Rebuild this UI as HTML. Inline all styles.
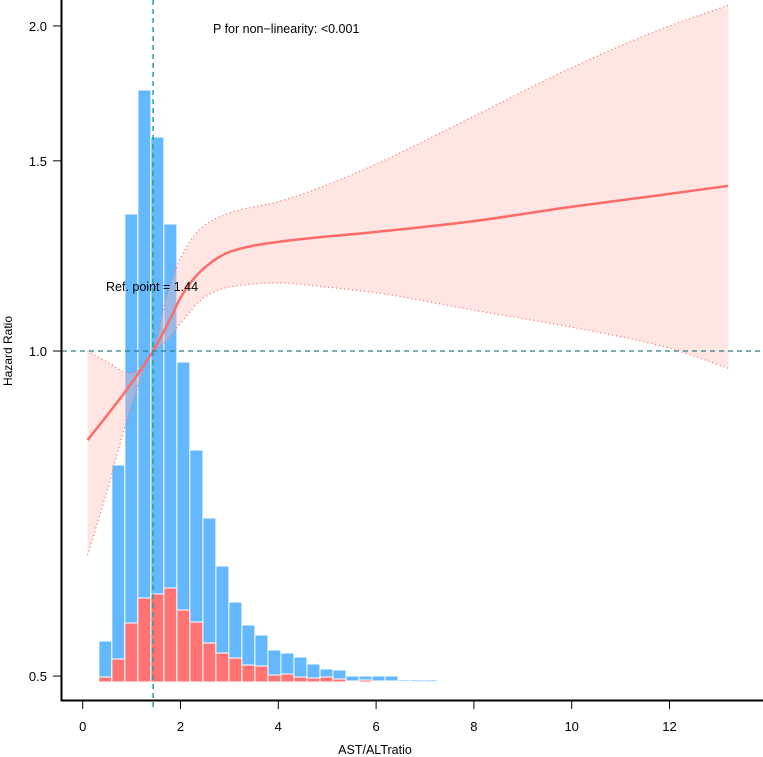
<!DOCTYPE html>
<html><head><meta charset="utf-8"><style>
html,body{margin:0;padding:0;background:#fff;}
svg{display:block;font-family:"Liberation Sans",Arial,sans-serif;}
</style></head><body>
<svg id="chart" width="763" height="757" viewBox="0 0 763 757" xmlns="http://www.w3.org/2000/svg">
<g id="hist"></g>
<g id="band"></g>
<g id="axes"></g>
<text x="12" y="351" font-size="12" text-anchor="middle" transform="rotate(-90 12 351)">Hazard Ratio</text>
<text x="375" y="754" font-size="12.5" text-anchor="middle">AST/ALTratio</text>
<text x="213" y="33" font-size="12.5">P for non−linearity: &lt;0.001</text>
<text x="106" y="291" font-size="12.5">Ref. point = 1.44</text>
</svg>
<script>
const binStart = 0.33;
const binWidth = 0.266;
const totalCounts = [41,217,468,592,545,458,320,232,164,116,80,57,47,32,29,25,18,13,12,6,6,6,6,2,2,2,1,1];
const eventCounts = [5,23,59,84,88,94,72,60,39,29,24,17,16,7,8,5,4,5,3,1,2,1,1,0.5,0.3,0.3,0.2,0.2];
const curveX = [0.1,0.5,1.0,1.44,1.8,2.0,2.5,3.0,3.5,4,6,8,10,12,13.2];
const curveHR = [0.827,0.872,0.934,1,1.073,1.12,1.195,1.235,1.252,1.262,1.289,1.319,1.36,1.398,1.422];
const bandX = [0.1,0.5,1.0,1.44,1.7,2.0,2.5,3,4,5,6,8,10,12,13.2];
const bandUpper = [1.0,0.977,0.954,1.0,1.115,1.219,1.308,1.342,1.375,1.425,1.49,1.65,1.83,2.0,2.09];
const bandLower = [0.647,0.743,0.891,1.0,1.02,1.061,1.122,1.146,1.156,1.146,1.132,1.091,1.052,1.006,0.964];
const xTicks = [0,2,4,6,8,10,12];
const yTicks = [0.5,1.0,1.5,2.0];
const refPoint = 1.44;

const NS="http://www.w3.org/2000/svg";
const X = v => 82.7 + v*48.9;
const Y = hr => 351 - Math.log(hr)*469;
const H = c => 682 - c*1.0;
function mk(tag, attrs, parent){const e=document.createElementNS(NS,tag);for(const k in attrs)e.setAttribute(k,attrs[k]);parent.appendChild(e);return e;}
function segs(pts){
  const n=pts.length, m=[];
  const s=[];for(let i=0;i<n-1;i++)s.push((pts[i+1][1]-pts[i][1])/(pts[i+1][0]-pts[i][0]));
  for(let i=0;i<n;i++){
    if(i===0)m.push(s[0]);else if(i===n-1)m.push(s[n-2]);
    else{const h0=pts[i][0]-pts[i-1][0],h1=pts[i+1][0]-pts[i][0];
      if(s[i-1]*s[i]<=0)m.push((s[i-1]+s[i])/2*0.5);
      else m.push((h0+h1)/( h0/s[i] + h1/s[i-1] ));}
  }
  let d="";
  for(let i=0;i<n-1;i++){const h=pts[i+1][0]-pts[i][0];
    d+=" C"+(pts[i][0]+h/3).toFixed(1)+","+(pts[i][1]+m[i]*h/3).toFixed(1)+" "+(pts[i+1][0]-h/3).toFixed(1)+","+(pts[i+1][1]-m[i+1]*h/3).toFixed(1)+" "+pts[i+1][0].toFixed(1)+","+pts[i+1][1].toFixed(1);}
  return d;
}
function smooth(pts){return "M"+pts[0][0].toFixed(1)+","+pts[0][1].toFixed(1)+segs(pts);}

const hist=document.getElementById('hist');
totalCounts.forEach((c,i)=>{
  const x0=X(binStart+i*binWidth), w=X(binStart+(i+1)*binWidth)-x0;
  const b=mk('rect',{x:x0,y:H(c),width:w,height:682-H(c),fill:'#63b8ff',stroke:'#ffffff','stroke-width':1},hist);
  
  
  const r=mk('rect',{x:x0,y:H(eventCounts[i]),width:w,height:682-H(eventCounts[i]),fill:'#ff7373',stroke:'#ffffff','stroke-width':1},hist);
  
  
});

const band=document.getElementById('band');
const up=bandX.map((x,i)=>[X(x),Y(bandUpper[i])]);
const lo=bandX.map((x,i)=>[X(x),Y(bandLower[i])]);
function sample(pts){const out=[];const path=mk('path',{d:smooth(pts),fill:'none'},band);const L=path.getTotalLength();for(let k=0;k<=300;k++){const p=path.getPointAtLength(L*k/300);out.push([p.x,p.y]);}band.removeChild(path);return out;}
const su=sample(up), sl=sample(lo).reverse();
const area=mk('path',{d:"M"+su.concat(sl).map(p=>p[0].toFixed(1)+","+p[1].toFixed(1)).join(" L")+" Z",fill:'rgba(255,182,175,0.35)'},band);


const u=mk('path',{d:smooth(up),fill:'none',stroke:'#ff6b6b','stroke-width':1.3,'stroke-dasharray':'1 3'},band);


const l=mk('path',{d:smooth(lo),fill:'none',stroke:'#ff6b6b','stroke-width':1.3,'stroke-dasharray':'1 3'},band);


const c=mk('path',{d:smooth(curveX.map((x,i)=>[X(x),Y(curveHR[i])])),fill:'none',stroke:'#ff6b6b','stroke-width':2.5},band);



const ax=document.getElementById('axes');
const hl=mk('line',{x1:62,x2:763,y1:Y(1),y2:Y(1),stroke:'#2a7f86','stroke-width':1.2,'stroke-dasharray':'5 4'},ax);


const vl=mk('line',{x1:X(refPoint),x2:X(refPoint),y1:0,y2:710,stroke:'#20a39a','stroke-width':1.5,'stroke-dasharray':'5 4'},ax);


const ya=mk('line',{x1:61.5,x2:61.5,y1:0,y2:701,stroke:'#000','stroke-width':2},ax);


const xa=mk('line',{x1:61,x2:763,y1:700.5,y2:700.5,stroke:'#000','stroke-width':2},ax);


xTicks.forEach(t=>{
  const tk=mk('line',{x1:X(t),x2:X(t),y1:701,y2:709,stroke:'#000','stroke-width':1},ax);
  
  
  const tx=mk('text',{x:X(t),y:731,'font-size':13,'text-anchor':'middle'},ax);tx.textContent=t;
  
  
});
yTicks.forEach(t=>{
  const tk=mk('line',{x1:53,x2:61,y1:Y(t),y2:Y(t),stroke:'#000','stroke-width':1},ax);
  
  
  const tx=mk('text',{x:47,y:Y(t)+5,'font-size':13,'text-anchor':'end'},ax);tx.textContent=t.toFixed(1);
  
  
});
</script>
</body></html>
